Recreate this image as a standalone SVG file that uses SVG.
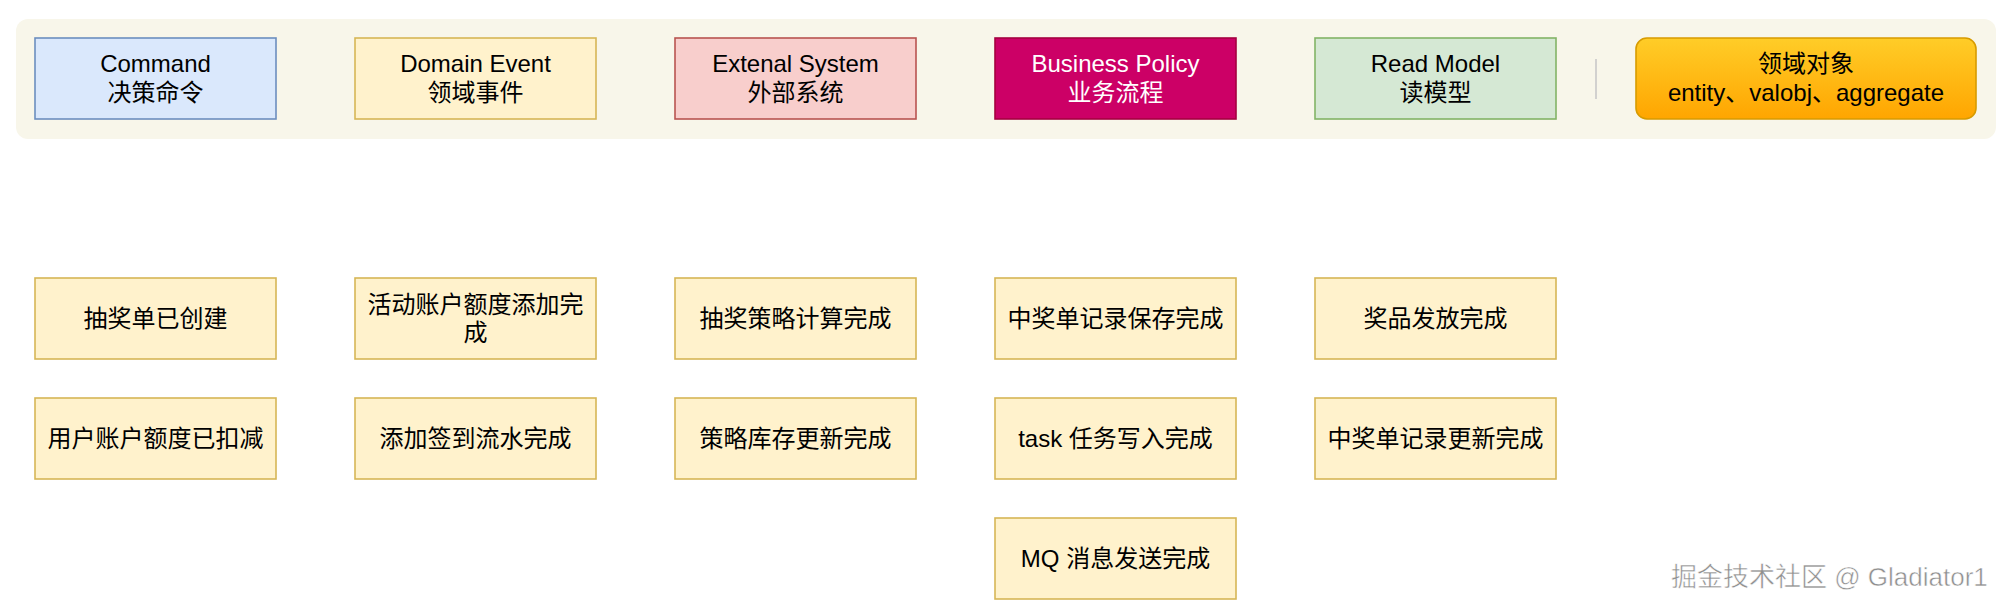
<svg xmlns="http://www.w3.org/2000/svg" width="2000" height="610" viewBox="0 0 2000 610">
<style>
text{font-family:"Liberation Sans","Noto Sans CJK SC",sans-serif;font-size:24px;fill:#000;text-anchor:middle}
.cmd{fill:#dae8fc;stroke:#6c8ebf;stroke-width:1.6}
.evt{fill:#fff2cc;stroke:#d6b656;stroke-width:1.6}
.ext{fill:#f8cecc;stroke:#b85450;stroke-width:1.6}
.pol{fill:#cc0066;stroke:#a50040;stroke-width:1.6}
.rm{fill:#d5e8d4;stroke:#82b366;stroke-width:1.6}
.agg{fill:url(#og);stroke:#d79b00;stroke-width:1.6}
.wt{fill:#fff}
.wm{font-size:26px;fill:#8f8f8f;stroke:#fff;stroke-width:0.5;text-anchor:start}
</style>
<defs>
<linearGradient id="og" x1="0" y1="0" x2="0" y2="1">
<stop offset="0" stop-color="#ffcd28"/>
<stop offset="1" stop-color="#ffa500"/>
</linearGradient>
</defs>
<rect width="2000" height="610" fill="#fff"/>
<rect id="legend-panel" x="16" y="19" width="1980" height="120" rx="12" fill="#f8f6ea"/>
<g id="connectors"><line x1="1596" y1="59" x2="1596" y2="99" stroke="#c8c8c8" stroke-width="1.6"/></g>
<g id="legend-command"><rect class="cmd" x="35" y="38" width="241" height="81"/><text x="155.5" y="72">Command</text><text x="155.5" y="101">决策命令</text></g>
<g id="legend-event"><rect class="evt" x="355" y="38" width="241" height="81"/><text x="475.5" y="72">Domain Event</text><text x="475.5" y="101">领域事件</text></g>
<g id="legend-external"><rect class="ext" x="675" y="38" width="241" height="81"/><text x="795.5" y="72">Extenal System</text><text x="795.5" y="101">外部系统</text></g>
<g id="legend-policy"><rect class="pol" x="995" y="38" width="241" height="81"/><text class="wt" x="1115.5" y="72">Business Policy</text><text class="wt" x="1115.5" y="101">业务流程</text></g>
<g id="legend-readmodel"><rect class="rm" x="1315" y="38" width="241" height="81"/><text x="1435.5" y="72">Read Model</text><text x="1435.5" y="101">读模型</text></g>
<g id="legend-aggregate"><rect class="agg" x="1636" y="38" width="340" height="81" rx="11"/><text x="1806" y="72">领域对象</text><text x="1806" y="101">entity、valobj、aggregate</text></g>

<g id="e1"><rect class="evt" x="35" y="278" width="241" height="81"/><text x="155.5" y="327">抽奖单已创建</text></g>
<g id="e2"><rect class="evt" x="35" y="398" width="241" height="81"/><text x="155.5" y="447">用户账户额度已扣减</text></g>
<g id="e3"><rect class="evt" x="355" y="278" width="241" height="81"/><text x="475.5" y="313">活动账户额度添加完</text><text x="475.5" y="341">成</text></g>
<g id="e4"><rect class="evt" x="355" y="398" width="241" height="81"/><text x="475.5" y="447">添加签到流水完成</text></g>
<g id="e5"><rect class="evt" x="675" y="278" width="241" height="81"/><text x="795.5" y="327">抽奖策略计算完成</text></g>
<g id="e6"><rect class="evt" x="675" y="398" width="241" height="81"/><text x="795.5" y="447">策略库存更新完成</text></g>
<g id="e7"><rect class="evt" x="995" y="278" width="241" height="81"/><text x="1115.5" y="327">中奖单记录保存完成</text></g>
<g id="e8"><rect class="evt" x="995" y="398" width="241" height="81"/><text x="1115.5" y="447">task 任务写入完成</text></g>
<g id="e9"><rect class="evt" x="995" y="518" width="241" height="81"/><text x="1115.5" y="567">MQ 消息发送完成</text></g>
<g id="e10"><rect class="evt" x="1315" y="278" width="241" height="81"/><text x="1435.5" y="327">奖品发放完成</text></g>
<g id="e11"><rect class="evt" x="1315" y="398" width="241" height="81"/><text x="1435.5" y="447">中奖单记录更新完成</text></g>
<text class="wm" x="1671" y="586">掘金技术社区 @ Gladiator1</text>
</svg>
